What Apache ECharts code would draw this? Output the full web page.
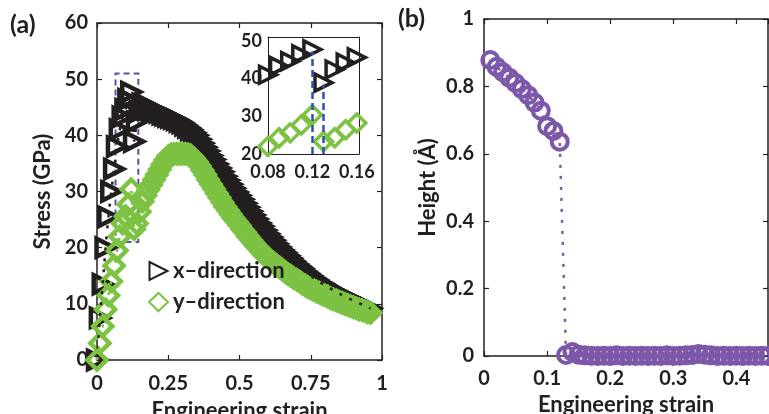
<!DOCTYPE html>
<html>
<head>
<meta charset="utf-8">
<script src="https://cdn.jsdelivr.net/npm/echarts@6/dist/echarts.min.js"></script>
<style>
html, body { margin: 0; padding: 0; background: #fff; }
#chart { width: 769px; height: 414px; }
</style>
</head>
<body>
<div id="chart"></div>
<script>
// panel (a): engineering strain, shared by both directions
var strainA = [0, 0.01, 0.02, 0.03, 0.04, 0.05, 0.06, 0.07, 0.08, 0.09,
  0.10, 0.11, 0.12, 0.13, 0.14, 0.15, 0.16, 0.17, 0.18, 0.19,
  0.20, 0.21, 0.22, 0.23, 0.24, 0.25, 0.26, 0.27, 0.28, 0.29,
  0.30, 0.31, 0.32, 0.33, 0.34, 0.35, 0.36, 0.37, 0.38, 0.39,
  0.40, 0.41, 0.42, 0.43, 0.44, 0.45, 0.46, 0.47, 0.48, 0.49,
  0.50, 0.51, 0.52, 0.53, 0.54, 0.55, 0.56, 0.57, 0.58, 0.59,
  0.60, 0.61, 0.62, 0.63, 0.64, 0.65, 0.66, 0.67, 0.68, 0.69,
  0.70, 0.71, 0.72, 0.73, 0.74, 0.75, 0.76, 0.77, 0.78, 0.79,
  0.80, 0.81, 0.82, 0.83, 0.84, 0.85, 0.86, 0.87, 0.88, 0.89,
  0.90, 0.91, 0.92, 0.93, 0.94, 0.95, 0.96];

// stress (GPa), x-direction
var stressX = [0, 7.5, 13.5, 20, 25.5, 30, 34, 38, 41, 43.3,
  44.6, 46.4, 47.7, 38.9, 42.4, 44.2, 45.6, 45.4, 45.2, 45.0,
  44.7, 44.4, 44.1, 43.8, 43.6, 43.4, 43.2, 43.0, 42.8, 42.5,
  42.2, 41.8, 41.4, 41.0, 40.5, 40.0, 39.3, 38.6, 37.9, 37.2,
  36.4, 35.7, 34.9, 34.2, 33.5, 32.7, 32.0, 31.3, 30.6, 29.9,
  29.3, 28.6, 27.9, 27.2, 26.5, 25.8, 25.1, 24.4, 23.8, 23.1,
  22.5, 21.9, 21.3, 20.7, 20.1, 19.6, 19.1, 18.6, 18.1, 17.6,
  17.1, 16.7, 16.3, 15.8, 15.4, 15.0, 14.6, 14.3, 13.9, 13.6,
  13.3, 13.0, 12.7, 12.4, 12.1, 11.8, 11.6, 11.3, 11.1, 10.8,
  10.6, 10.4, 10.1, 9.9, 9.6, 9.4, 9.2];

// stress (GPa), y-direction
var stressY = [0, 3, 6, 9, 11.5, 14, 16.8, 19.5, 22, 24.3,
  25.6, 27.7, 30.4, 23.3, 24.3, 26.4, 28.2, 29.3, 30.3, 31.2,
  32.1, 33.0, 33.9, 34.8, 35.6, 36.3, 36.6, 36.7, 36.7, 36.7,
  36.7, 36.7, 36.6, 36.4, 35.9, 35.3, 34.6, 33.8, 33.0, 32.1,
  31.3, 30.5, 29.7, 28.9, 28.1, 27.3, 26.6, 25.9, 25.2, 24.6,
  24.0, 23.3, 22.7, 22.0, 21.4, 20.8, 20.2, 19.7, 19.1, 18.6,
  18.2, 17.7, 17.3, 16.9, 16.5, 16.1, 15.7, 15.3, 15.0, 14.6,
  14.3, 14.0, 13.6, 13.3, 13.0, 12.7, 12.5, 12.2, 12.0, 11.7,
  11.5, 11.3, 11.0, 10.8, 10.6, 10.4, 10.2, 10.0, 9.8, 9.6,
  9.4, 9.2, 9.0, 8.9, 8.7, 8.5, 8.4];

// panel (b): strain and buckling height (Å)
var strainB = [0.01, 0.02, 0.03, 0.04, 0.05, 0.06, 0.07, 0.08, 0.09, 0.10,
  0.11, 0.12, 0.13, 0.14, 0.15, 0.16, 0.17, 0.18, 0.19, 0.20,
  0.21, 0.22, 0.23, 0.24, 0.25, 0.26, 0.27, 0.28, 0.29, 0.30,
  0.31, 0.32, 0.33, 0.34, 0.35, 0.36, 0.37, 0.38, 0.39, 0.40,
  0.41, 0.42, 0.43, 0.44, 0.45];
var height = [0.878, 0.858, 0.842, 0.826, 0.81, 0.792, 0.774, 0.752, 0.728, 0.682,
  0.668, 0.636, 0.003, 0.012, 0.004, 0.002, 0.001, 0, 0.001, 0,
  0.002, 0, 0.001, 0, 0.001, 0, 0.001, 0, 0.002, 0,
  0.001, 0.002, 0.003, 0.006, 0.004, 0.002, 0, 0.001, 0, 0.001,
  0, 0.001, 0, 0.001, 0];

// zoomed region marked in (a) and the transition strains marked in the inset
var boxStrain = [0.065, 0.145];
var boxStress = [21, 51];
var transitionStrain = [0.12, 0.13];

var FONT = "Lato";
var INK = "#231f20";
var GREEN = "#7dc243";
var PURPLE = "#7d58a9";

function pairs(xs, ys) {
  return xs.map(function (x, i) { return [x, ys[i]]; });
}

var chart = echarts.init(document.getElementById("chart"));

var label = { fontFamily: FONT, fontWeight: "bold", fontSize: 22, color: INK };
var tickLabel = Object.assign({}, label, { fontSize: 20 });
var line = { show: true, onZero: false, lineStyle: { color: INK, width: 1.5 } };
var tick = { show: true, inside: true, length: 5, lineStyle: { color: INK, width: 1.2 } };
var thin = { show: true, onZero: false, lineStyle: { color: INK, width: 1 } };

function axis(opt) {
  return Object.assign({
    type: "value",
    axisLine: line,
    axisTick: tick,
    splitLine: { show: false },
    axisLabel: Object.assign({}, tickLabel)
  }, opt);
}

var topLines = [];
transitionStrain.forEach(function (s) {
  var i = strainA.indexOf(s);
  topLines.push([{ coord: [s, 20] }, { coord: [s, stressX[i] - 0.5] }]);
});

var clear = "rgba(255,255,255,0)";
var triStyle = { color: clear, borderColor: INK, borderWidth: 4.5, opacity: 1 };
var diaStyle = { color: clear, borderColor: GREEN, borderWidth: 4.5, opacity: 1 };

// dotted connecting line, drawn under the markers
function dots(name, xi, yi, data, color) {
  return {
    name: name, type: "line", xAxisIndex: xi, yAxisIndex: yi, data: data,
    showSymbol: false, silent: true,
    lineStyle: { color: color, width: 2.5, type: [3, 8] }
  };
}

var option = {
  animation: false,
  backgroundColor: "#fff",
  grid: [
    { left: 97, top: 23, width: 285, height: 337, outerBoundsMode: "none" },
    { left: 268, top: 37, width: 91, height: 117, outerBoundsMode: "none" },
    { left: 484, top: 19, width: 284, height: 337, outerBoundsMode: "none" }
  ],
  xAxis: [
    axis({ gridIndex: 0, position: "bottom", min: 0, max: 1, interval: 0.25,
      axisLabel: Object.assign({}, tickLabel, { margin: 14 }),
      name: "Engineering strain", nameLocation: "middle", nameGap: 40,
      nameTextStyle: label }),
    axis({ gridIndex: 0, position: "top", min: 0, max: 1, interval: 0.25,
      axisLabel: { show: false } }),
    axis({ gridIndex: 1, position: "bottom", min: 0.08, max: 0.162, interval: 0.04,
      axisTick: { show: false }, axisLine: thin,
      axisLabel: Object.assign({}, tickLabel, { fontSize: 18, margin: 9, showMaxLabel: false,
        formatter: function (v) { return v.toFixed(2); } }) }),
    axis({ gridIndex: 1, position: "top", min: 0.08, max: 0.162,
      axisTick: { show: false }, axisLine: thin, axisLabel: { show: false } }),
    axis({ gridIndex: 2, position: "bottom", min: 0, max: 0.45, interval: 0.1,
      axisLabel: Object.assign({}, tickLabel, { margin: 13, showMaxLabel: false }),
      name: "Engineering strain", nameLocation: "middle", nameGap: 35,
      nameTextStyle: label }),
    axis({ gridIndex: 2, position: "top", min: 0, max: 0.45, interval: 0.1,
      axisLabel: { show: false } })
  ],
  yAxis: [
    axis({ gridIndex: 0, position: "left", min: 0, max: 60, interval: 10,
      axisLabel: Object.assign({}, tickLabel, { margin: 9 }),
      name: "Stress (GPa)", nameLocation: "middle", nameGap: 43,
      nameTextStyle: label }),
    axis({ gridIndex: 0, position: "right", min: 0, max: 60, interval: 10,
      axisLabel: { show: false } }),
    axis({ gridIndex: 1, position: "left", min: 20, max: 51, interval: 10,
      axisTick: { show: false }, axisLine: thin,
      axisLabel: Object.assign({}, tickLabel, { fontSize: 18, margin: 6, showMaxLabel: false }) }),
    axis({ gridIndex: 1, position: "right", min: 20, max: 51,
      axisTick: { show: false }, axisLine: thin, axisLabel: { show: false } }),
    axis({ gridIndex: 2, position: "left", min: 0, max: 1, interval: 0.2,
      axisLabel: Object.assign({}, tickLabel, { margin: 10 }),
      name: "Height (Å)", nameLocation: "middle", nameGap: 45,
      nameTextStyle: label }),
    axis({ gridIndex: 2, position: "right", min: 0, max: 1, interval: 0.2,
      axisLabel: { show: false } })
  ],
  legend: {
    data: [
      { name: "x–direction", icon: "path://M0,0L18,9L0,18Z" },
      { name: "y–direction" }
    ],
    orient: "vertical",
    left: 143,
    top: 255,
    itemWidth: 19,
    itemHeight: 18,
    itemGap: 9,
    textStyle: label
  },
  graphic: [
    { type: "text", left: 10, top: 12, style: { text: "(a)", fontFamily: FONT, fontWeight: "bold", fontSize: 25, fill: INK } },
    { type: "text", left: 398, top: 6, style: { text: "(b)", fontFamily: FONT, fontWeight: "bold", fontSize: 25, fill: INK } }
  ],
  series: [
    dots("x dots", 0, 0, pairs(strainA, stressX), INK),
    {
      name: "x–direction", type: "scatter", xAxisIndex: 0, yAxisIndex: 0,
      data: pairs(strainA, stressX),
      symbol: "triangle", symbolRotate: -90, symbolSize: 18,
      itemStyle: triStyle
    },
    dots("y dots", 0, 0, pairs(strainA, stressY), GREEN),
    {
      name: "y–direction", type: "scatter", xAxisIndex: 0, yAxisIndex: 0,
      data: pairs(strainA, stressY),
      symbol: "diamond", symbolSize: 19,
      itemStyle: diaStyle,
      markArea: {
        silent: true,
        label: { show: false },
        itemStyle: { color: clear, borderColor: "#5553a8", borderWidth: 2, borderType: [6, 4] },
        data: [[{ coord: [boxStrain[0], boxStress[0]] }, { coord: [boxStrain[1], boxStress[1]] }]]
      }
    },
    {
      name: "x inset", type: "scatter", xAxisIndex: 2, yAxisIndex: 2, clip: true,
      data: pairs(strainA, stressX),
      symbol: "triangle", symbolRotate: -90, symbolSize: 17,
      itemStyle: Object.assign({}, triStyle, { borderWidth: 3.5 })
    },
    {
      name: "y inset", type: "scatter", xAxisIndex: 2, yAxisIndex: 2, clip: true,
      data: pairs(strainA, stressY),
      symbol: "diamond", symbolSize: 18,
      itemStyle: Object.assign({}, diaStyle, { borderWidth: 3.5 }),
      markLine: {
        silent: true,
        symbol: "none",
        label: { show: false },
        lineStyle: { color: "#2f4fb3", width: 2.5, type: [7, 4] },
        data: topLines
      }
    },
    dots("height dots", 4, 4, pairs(strainB, height), PURPLE),
    {
      name: "height", type: "scatter", xAxisIndex: 4, yAxisIndex: 4,
      data: pairs(strainB, height),
      symbol: "circle", symbolSize: 16,
      itemStyle: { color: clear, borderColor: PURPLE, borderWidth: 4, opacity: 1 }
    }
  ]
};

chart.setOption(option);
</script>
</body>
</html>
